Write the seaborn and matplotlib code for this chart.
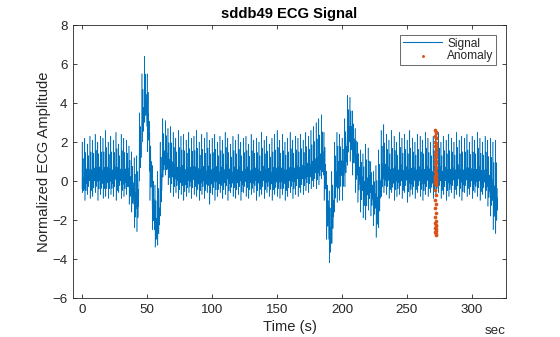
import numpy as np
import pandas as pd
import seaborn as sns
import matplotlib
matplotlib.use("Agg")
import matplotlib.pyplot as plt

# Beat-by-beat readings of the record (one beat every 2 s, starting at 0 s)
beat_start = 0.0
beat_step = 2.0

r_peak = [
    2.0, 2.2, 1.9, 2.3, 2.1, 2.4, 2.0, 2.3, 2.2, 2.6,
    2.0, 2.3, 2.1, 2.5, 1.9, 2.4, 2.2, 2.1, 1.8, 1.5,
    1.2, 1.3, 3.5, 5.5, 6.4, 5.5, 2.5, 0.8, -0.2, 0.5,
    2.0, 3.2, 3.1, 2.7, 2.8, 2.5, 2.2, 2.6, 2.3, 2.4,
    2.1, 2.5, 2.2, 2.3, 2.6, 2.0, 2.4, 2.2, 2.5, 2.1,
    2.2, 2.4, 2.0, 2.3, 2.1, 2.5, 2.2, 1.9, 2.3, 2.1,
    2.4, 2.0, 2.2, 2.3, 1.9, 2.4, 2.1, 2.2, 2.0, 2.5,
    2.1, 2.3, 1.9, 2.2, 2.4, 2.6, 2.1, 2.4, 2.0, 2.2,
    2.5, 2.1, 2.3, 2.2, 2.4, 2.1, 2.5, 2.3, 2.6, 2.8,
    3.0, 3.2, 3.4, 2.5, 0.5, -0.5, 0.5, 2.0, 2.5, 2.4,
    2.2, 3.2, 4.4, 4.3, 3.6, 2.7, 2.0, 1.6, 1.4, 1.9,
    1.7, 1.0, 0.5, 0.8, 1.6, 2.6, 2.9, 2.4, 2.1, 2.6,
    2.3, 2.0, 2.5, 2.2, 2.4, 2.1, 2.6, 2.2, 2.0, 2.4,
    2.3, 2.1, 2.5, 2.2, 2.0, 2.3, 2.2, 2.5, 2.0, 2.3,
    2.1, 2.4, 2.2, 2.0, 2.5, 2.1, 2.3, 2.2, 2.4, 2.0,
    2.3, 2.1, 2.5, 2.2, 2.0, 2.3, 2.1, 2.2, 2.0, 2.1,
]

s_trough = [
    -0.6, -1.0, -0.7, -0.9, -0.8, -0.6, -1.0, -0.7, -0.9, -0.8,
    -0.9, -0.7, -0.8, -1.0, -0.6, -0.9, -0.8, -0.7, -1.2, -1.6,
    -2.4, -2.6, 0.0, 2.0, 3.0, 1.5, -1.0, -2.5, -3.4, -3.3,
    -1.8, 0.2, 0.3, -0.2, -0.6, -0.8, -0.6, -0.9, -0.7, -1.0,
    -0.8, -0.6, -0.9, -0.7, -0.8, -1.0, -0.7, -0.9, -0.6, -1.2,
    -0.7, -1.0, -0.8, -0.6, -0.9, -0.7, -1.0, -0.6, -0.8, -0.9,
    -0.7, -1.0, -0.6, -0.8, -0.9, -0.7, -0.6, -1.0, -0.8, -0.7,
    -0.9, -0.6, -0.8, -1.0, -0.7, -0.8, -0.9, -0.7, -1.0, -0.8,
    -0.6, -0.9, -0.7, -0.8, -0.6, -0.7, -0.5, -0.6, -0.4, -0.3,
    -0.4, -0.2, 0.1, -1.0, -3.0, -4.2, -3.2, -1.6, -1.1, -1.0,
    -1.0, -0.3, 0.8, 1.0, 0.3, -0.6, -1.1, -1.6, -1.9, -2.0,
    -1.5, -1.8, -2.3, -2.9, -2.4, -0.8, -0.6, -0.7, -0.9, -0.6,
    -1.0, -0.8, -0.7, -0.9, -0.6, -1.1, -0.8, -0.7, -0.9, -0.6,
    -0.8, -1.0, -0.7, -0.8, -0.6, -0.9, -0.8, -0.6, -0.9, -0.7,
    -1.0, -0.8, -0.6, -0.9, -0.7, -0.8, -1.0, -0.6, -0.8, -0.7,
    -0.9, -0.6, -0.8, -1.0, -0.7, -0.9, -1.3, -1.8, -2.5, -2.7,
]

baseline = [
    -0.4, 0.1, 0.2, 0.0, 0.2, 0.1, 0.3, 0.0, 0.2, 0.1,
    0.2, 0.0, 0.3, 0.1, 0.2, 0.0, 0.1, 0.2, -0.3, -0.6,
    -1.2, -1.0, 1.5, 3.2, 3.8, 2.8, 0.5, -1.5, -2.5, -2.0,
    -0.2, 1.0, 0.9, 0.6, 0.4, 0.3, 0.2, 0.1, 0.3, 0.0,
    0.2, 0.1, 0.3, 0.2, 0.0, 0.1, 0.2, 0.0, 0.2, 0.1,
    0.1, 0.2, 0.0, 0.2, 0.1, 0.3, 0.1, 0.0, 0.2, 0.1,
    0.2, 0.0, 0.1, 0.2, 0.1, 0.0, 0.2, 0.1, 0.0, 0.2,
    0.1, 0.1, 0.0, 0.2, 0.1, 0.1, 0.2, 0.0, 0.1, 0.2,
    0.1, 0.2, 0.3, 0.2, 0.3, 0.3, 0.4, 0.4, 0.5, 0.6,
    0.6, 0.8, 0.9, 0.3, -1.5, -3.0, -1.5, 0.0, 0.5, 0.6,
    0.6, 1.3, 2.3, 2.3, 1.7, 0.9, 0.3, -0.2, -0.5, -0.4,
    -0.2, -0.6, -1.0, -1.4, -0.5, 0.3, 0.2, 0.2, 0.1, 0.0,
    0.2, 0.1, 0.3, 0.0, 0.2, 0.1, 0.0, 0.2, 0.1, 0.2,
    0.0, 0.1, 0.2, 0.1, 0.0, 0.2, 0.1, 0.2, 0.0, 0.2,
    0.1, 0.0, 0.2, 0.1, 0.3, 0.1, 0.0, 0.2, 0.1, 0.2,
    0.0, 0.1, 0.2, 0.0, 0.1, 0.0, -0.3, -0.6, -1.0, -1.2,
]

# Samples flagged as anomalous around 272 s
anomaly_time = [
    271.9, 272.0, 272.1, 271.9, 272.0, 272.1, 271.9, 272.0, 272.1, 271.9,
    272.0, 272.1, 271.9, 272.0, 272.1, 271.9, 272.0, 272.1, 271.9, 272.0,
    272.1, 271.9, 272.0, 272.1,
    271.6, 271.8, 272.0, 272.2, 272.4, 271.7, 271.9, 272.1, 272.3, 271.8,
    272.2, 272.0,
    271.9, 272.1, 271.9, 272.1, 271.9, 272.1, 271.9,
    272.0, 271.9, 272.1, 272.0, 271.9, 272.1, 272.0, 271.9, 272.1, 272.0,
]
anomaly_value = [
    2.64, 2.52, 2.47, 2.33, 2.21, 2.18, 2.02, 1.94, 1.81, 1.77,
    1.63, 1.52, 1.41, 1.36, 1.22, 1.13, 1.04, 0.92, 0.85, 0.71,
    0.66, 0.53, 0.42, 0.33,
    0.25, 0.18, 0.12, 0.05, 0.0, -0.04, -0.10, -0.15, -0.20, 0.08,
    0.15, -0.07,
    -0.45, -0.70, -0.95, -1.20, -1.40, -1.65, -1.85,
    -2.05, -2.15, -2.25, -2.32, -2.40, -2.48, -2.55, -2.62, -2.70, -2.78,
]

# Shape of one 2 s stretch of the trace: time offset and level, where +1 is
# the R peak, -1 the S trough and 0 the baseline of that beat
shape_offset = [0.0, 0.15, 0.3, 0.5, 0.7, 0.9, 1.1, 1.3, 1.5, 1.7]
shape_level = [0.0, 1.0, -1.0, 0.2, -0.3, 0.65, -0.55, 0.25, -0.2, 0.1]

t_pts, v_pts = [], []
for i, (top, bot, base) in enumerate(zip(r_peak, s_trough, baseline)):
    t0 = beat_start + i * beat_step
    for dt, lev in zip(shape_offset, shape_level):
        t_pts.append(t0 + dt)
        v_pts.append(base + lev * (top - base) if lev >= 0 else base + lev * (base - bot))
signal = pd.DataFrame({"time": t_pts, "amp": v_pts})
anom = pd.DataFrame({"time": anomaly_time, "amp": anomaly_value})

plt.rcParams["font.family"] = ["Liberation Sans", "DejaVu Sans"]
ink = "#262626"

fig = plt.figure(figsize=(5.6, 3.37), dpi=100)
ax = fig.add_axes([0.1304, 0.1157, 0.9036 - 0.1304, 0.9258 - 0.1157])

sns.lineplot(data=signal, x="time", y="amp", ax=ax, sort=False, estimator=None,
             color="#0072BD", linewidth=0.4, label="Signal")
sns.scatterplot(data=anom, x="time", y="amp", ax=ax, color="#D95319",
                s=7, linewidth=0, marker="o", label="Anomaly", zorder=3)

ax.set_xlim(-6.9, 326.2)
ax.set_ylim(-6, 8)
ax.set_xticks([0, 50, 100, 150, 200, 250, 300])
ax.set_yticks([-6, -4, -2, 0, 2, 4, 6, 8])
ax.tick_params(direction="in", length=3.2, width=0.6, colors=ink,
               labelsize=9.6, top=True, right=True, pad=4)
for sp in ax.spines.values():
    sp.set_color(ink)
    sp.set_linewidth(0.6)

ax.set_xlabel("Time (s)", fontsize=10.6, color=ink, labelpad=3)
ax.set_ylabel("Normalized ECG Amplitude", fontsize=10.6, color=ink, labelpad=1)
ax.set_title("sddb49 ECG Signal", fontsize=10.6, fontweight="bold",
             color="#000000", pad=5)
ax.text(1.0, -0.1, "sec", transform=ax.transAxes, ha="right", va="top",
        fontsize=9.6, color=ink)

leg = ax.legend(loc="upper right", fontsize=8.6, frameon=True, fancybox=False,
                borderpad=0.25, handlelength=3.3, handletextpad=0.4,
                labelspacing=0.05, borderaxespad=0.8, markerscale=0.8)
leg.get_frame().set_edgecolor(ink)
leg.get_frame().set_linewidth(0.6)
for line in leg.get_lines():
    line.set_linewidth(0.8)
for txt in leg.get_texts():
    txt.set_color(ink)

fig.savefig("out.png", dpi=100)
